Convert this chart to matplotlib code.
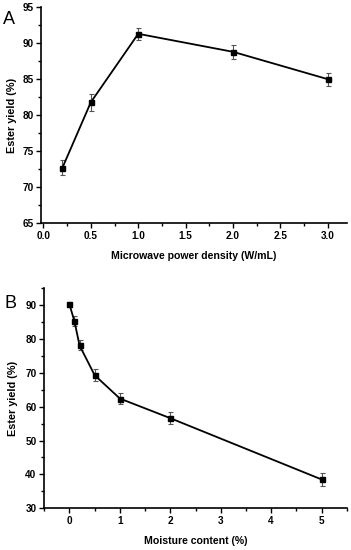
import matplotlib
matplotlib.use("Agg")
import matplotlib.pyplot as plt
from matplotlib.ticker import MultipleLocator

plt.rcParams['font.family'] = ['Liberation Sans', 'DejaVu Sans']

# Panel A data
power = [0.2, 0.5, 1.0, 2.0, 3.0]
yield_a = [72.7, 81.8, 91.3, 88.8, 85.0]
err_a = [1.05, 1.2, 0.85, 1.0, 0.9]

# Panel B data
moisture = [0.0, 0.1, 0.2, 0.5, 1.0, 2.0, 5.0]
yield_b = [90.2, 85.2, 78.1, 69.3, 62.4, 56.6, 38.5]
err_b = [0.8, 1.5, 1.5, 1.7, 1.7, 1.7, 1.9]

fig = plt.figure(figsize=(3.51, 5.5), dpi=100)
axA = fig.add_axes([0.117, 0.594, 0.871, 0.393])
axB = fig.add_axes([0.126, 0.076, 0.862, 0.400])

def style(ax):
    for s in ['top', 'right']:
        ax.spines[s].set_visible(False)
    for s in ['left', 'bottom']:
        ax.spines[s].set_linewidth(1.2)
    ax.tick_params(which='major', direction='out', length=3.5, width=1.0,
                   labelsize=7.2, pad=2)
    ax.tick_params(which='minor', direction='out', length=2.5, width=1.0)
    for lab in ax.get_xticklabels() + ax.get_yticklabels():
        lab.set_fontweight('bold')

def plot(ax, x, y, e):
    ax.errorbar(x, y, yerr=e, fmt='-s', color='black', lw=1.3, ms=3.6,
                ecolor='#555555', elinewidth=0.8, capsize=1.8, capthick=0.8,
                zorder=3)

plot(axA, power, yield_a, err_a)
axA.set_xlim(-0.025, 3.2)
axA.set_ylim(65, 95)
axA.xaxis.set_minor_locator(MultipleLocator(0.25))
axA.yaxis.set_major_locator(MultipleLocator(5))
axA.yaxis.set_minor_locator(MultipleLocator(2.5))
axA.set_xticks([0, 0.5, 1.0, 1.5, 2.0, 2.5, 3.0])
axA.set_xticklabels(['0.0', '0.5', '1.0', '1.5', '2.0', '2.5', '3.0'])
style(axA)
axA.set_xlabel('Microwave power density (W/mL)', fontsize=7.6, fontweight='bold', labelpad=7)
axA.set_ylabel('Ester yield (%)', fontsize=7.8, fontweight='bold', labelpad=4)

plot(axB, moisture, yield_b, err_b)
axB.set_xlim(-0.5, 5.5)
axB.set_ylim(30, 95)
axB.xaxis.set_major_locator(MultipleLocator(1))
axB.xaxis.set_minor_locator(MultipleLocator(0.5))
axB.set_yticks([30, 40, 50, 60, 70, 80, 90])
axB.yaxis.set_minor_locator(MultipleLocator(5))
style(axB)
axB.set_xlabel('Moisture content (%)', fontsize=7.6, fontweight='bold', labelpad=7)
axB.set_ylabel('Ester yield (%)', fontsize=7.8, fontweight='bold', labelpad=5)

fig.text(0.008, 0.965, 'A', fontsize=13, ha='left', va='center')
fig.text(0.012, 0.449, 'B', fontsize=13, ha='left', va='center')

fig.savefig('out.png', dpi=100)
